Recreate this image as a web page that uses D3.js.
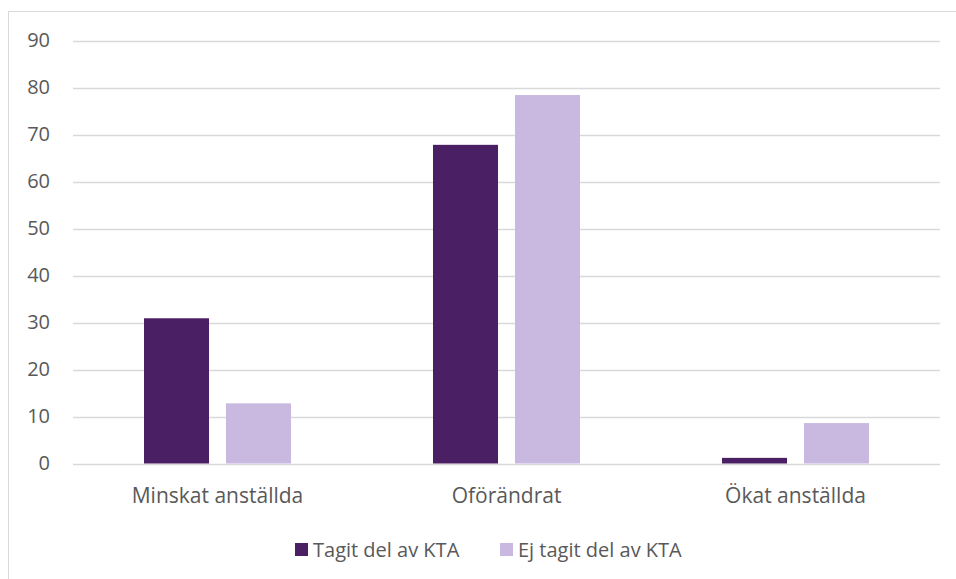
<!DOCTYPE html>
<html>
<head>
<meta charset="utf-8">
<script src="https://cdn.jsdelivr.net/npm/d3@7"></script>
<style>
  html, body { margin: 0; padding: 0; background: #fff; }
  svg { display: block; }
  text { font-family: "Open Sans", "Noto Sans", sans-serif; fill: #595959; }
</style>
</head>
<body>
<svg id="chart" width="956" height="579"></svg>
<script>
// Förändring i antal anställda, andel (%) per grupp
const categories = ["Minskat anställda", "Oförändrat", "Ökat anställda"];
const seriesNames = ["Tagit del av KTA", "Ej tagit del av KTA"];
const tagitValues = [30.9, 67.8, 1.2];
const ejTagitValues = [12.8, 78.4, 8.6];
const yTicks = [0, 10, 20, 30, 40, 50, 60, 70, 80, 90];
const colors = ["#4a1f63", "#c9b9e1"];

const seriesValues = [tagitValues, ejTagitValues];
const svg = d3.select("#chart");
const fontSize = 20;

// Outer chart frame
svg.append("rect")
  .attr("x", 8.5).attr("y", 11.5)
  .attr("width", 1000).attr("height", 1000)
  .attr("fill", "none").attr("stroke", "#d9d9d9").attr("stroke-width", 1);

const plot = { left: 73, right: 940, top: 40.5, bottom: 463.5 };

const y = d3.scaleLinear().domain([0, 90]).range([plot.bottom, plot.top]);
const x0 = d3.scaleBand().domain(categories).range([plot.left, plot.right]).padding(0);
const groupWidth = 147;
const x1 = d3.scaleBand().domain(seriesNames)
  .range([(x0.bandwidth() - groupWidth) / 2, (x0.bandwidth() + groupWidth) / 2])
  .paddingInner(0.207).paddingOuter(0);

// Horizontal gridlines
svg.append("g").selectAll("line").data(yTicks).join("line")
  .attr("x1", plot.left).attr("x2", plot.right)
  .attr("y1", d => Math.round(y(d)) + 0.5).attr("y2", d => Math.round(y(d)) + 0.5)
  .attr("stroke", "#d9d9d9").attr("stroke-width", 1.3);

// Y axis labels
const yAxis = d3.axisLeft(y).tickValues(yTicks).tickSize(0).tickPadding(0);
const yg = svg.append("g").attr("transform", "translate(50,0)").call(yAxis);
yg.attr("font-size", fontSize).attr("font-family", null);
yg.select(".domain").remove();
yg.selectAll("text").attr("fill", "#595959");

// Bars
const groups = svg.append("g").selectAll("g").data(categories).join("g")
  .attr("transform", d => `translate(${x0(d)},0)`);
groups.selectAll("rect")
  .data((d, i) => seriesNames.map((s, j) => ({ s, j, v: seriesValues[j][i] })))
  .join("rect")
  .attr("x", d => x1(d.s))
  .attr("width", x1.bandwidth())
  .attr("y", d => y(d.v))
  .attr("height", d => y(0) - y(d.v))
  .attr("fill", d => colors[d.j]);

// Category labels
const xAxis = d3.axisBottom(x0).tickSize(0).tickPadding(0);
const xg = svg.append("g").attr("transform", `translate(0,${plot.bottom})`).call(xAxis);
xg.attr("font-size", 21).attr("font-family", null);
xg.select(".domain").remove();
xg.selectAll("text").attr("dy", null).attr("y", 39).attr("fill", "#595959");

// Legend
const legendItems = [
  { name: seriesNames[0], color: colors[0], x: 295 },
  { name: seriesNames[1], color: colors[1], x: 500 }
];
const lg = svg.append("g");
legendItems.forEach(item => {
  lg.append("rect").attr("x", item.x).attr("y", 543).attr("width", 13).attr("height", 13).attr("fill", item.color);
  lg.append("text").attr("x", item.x + 18).attr("y", 557)
    .attr("font-size", fontSize).text(item.name);
});
</script>
</body>
</html>
